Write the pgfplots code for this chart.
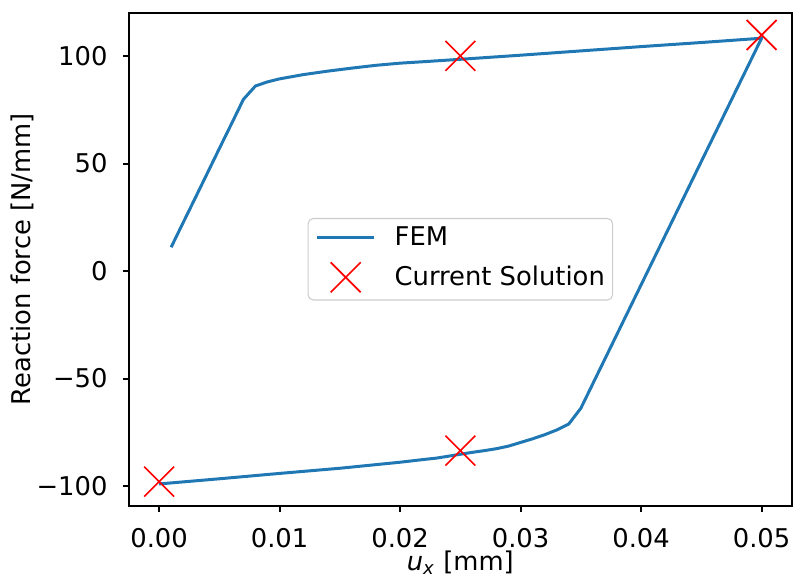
\documentclass[border=0pt]{standalone}
\usepackage{fontspec}
\setmainfont{DejaVu Sans}
\usepackage{pgfplots}
\pgfplotsset{compat=1.18}
\definecolor{mplblue}{HTML}{1F77B4}

\pgfplotsset{
  linelegend/.style={
    legend image code/.code={
      \draw[##1] (0pt,0pt) -- (22pt,0pt);}},
  marklegend/.style={
    legend image code/.code={
      \path[draw=none] (0pt,0pt) -- (22pt,0pt);
      \draw[##1, only marks] plot coordinates {(11pt,0pt)};}},
}

\pgfplotstableread{
x      y
0.001  11.1
0.002  22.6
0.003  34.0
0.004  45.5
0.005  57.0
0.006  68.4
0.007  79.9
0.008  86.1
0.009  88.0
0.010  89.4
0.011  90.4
0.012  91.4
0.014  93.0
0.016  94.4
0.018  95.7
0.020  96.7
0.022  97.4
0.025  98.5
0.030  100.4
0.035  102.4
0.040  104.4
0.045  106.3
0.050  108.3
0.045  51.0
0.040  -6.4
0.035  -63.8
0.034  -71.1
0.033  -73.9
0.032  -76.1
0.031  -78.0
0.030  -79.7
0.029  -81.4
0.028  -82.6
0.027  -83.5
0.026  -84.3
0.025  -85.2
0.024  -86.1
0.023  -87.0
0.022  -87.6
0.020  -88.9
0.015  -91.7
0.010  -94.1
0.005  -96.6
0.000  -99.0
}\femdata

\pgfplotstableread{
x      y
0.000  -97.9
0.025  -83.5
0.025  100.1
0.050  109.8
}\solution

\begin{document}
\begin{tikzpicture}
\path[use as bounding box] (-50pt,-28.3pt) rectangle (257.4pt,196.1pt);
\begin{axis}[
  scale only axis, width=256.9pt, height=191.2pt,
  xmin=-0.0025, xmax=0.0525, ymin=-109.2, ymax=120.2,
  scaled x ticks=false, scaled y ticks=false,
  xtick={0,0.01,0.02,0.03,0.04,0.05},
  xticklabels={0.00,0.01,0.02,0.03,0.04,0.05},
  ytick={-100,-50,0,50,100},
  yticklabels={−100,−50,0,50,100},
  xtick pos=bottom, ytick pos=left, tick align=outside,
  major tick length=2.3pt,
  axis line style={line width=0.78pt},
  tick style={line width=0.78pt, black},
  xticklabel style={yshift=-2.8pt},
  yticklabel style={xshift=-2.5pt},
  xlabel={\itshape u\textsubscript{x}\upshape\ [mm]},
  ylabel={Reaction force [N/mm]},
  xlabel style={at={(axis description cs:0.5,-0.1155)}, anchor=center},
  ylabel style={at={(axis description cs:-0.1615,0.5)}, anchor=center},
  legend style={at={(0.5,0.5)}, anchor=center, draw=black!20,
    rounded corners=2pt, fill=white, fill opacity=0.8, text opacity=1,
    draw opacity=1, inner xsep=3pt, inner ysep=3pt,
    row sep=5.2pt, column sep=7.4pt, nodes={inner sep=0pt}},
  legend cell align=left,
]
\addplot[mplblue, line width=1.16pt, line join=round, linelegend]
  table {\femdata};
\addlegendentry{FEM}
\addplot[only marks, mark=x, mark size=8.2pt, red,
  mark options={line width=0.65pt}, marklegend]
  table {\solution};
\addlegendentry{Current Solution}
\end{axis}
\end{tikzpicture}
\end{document}
